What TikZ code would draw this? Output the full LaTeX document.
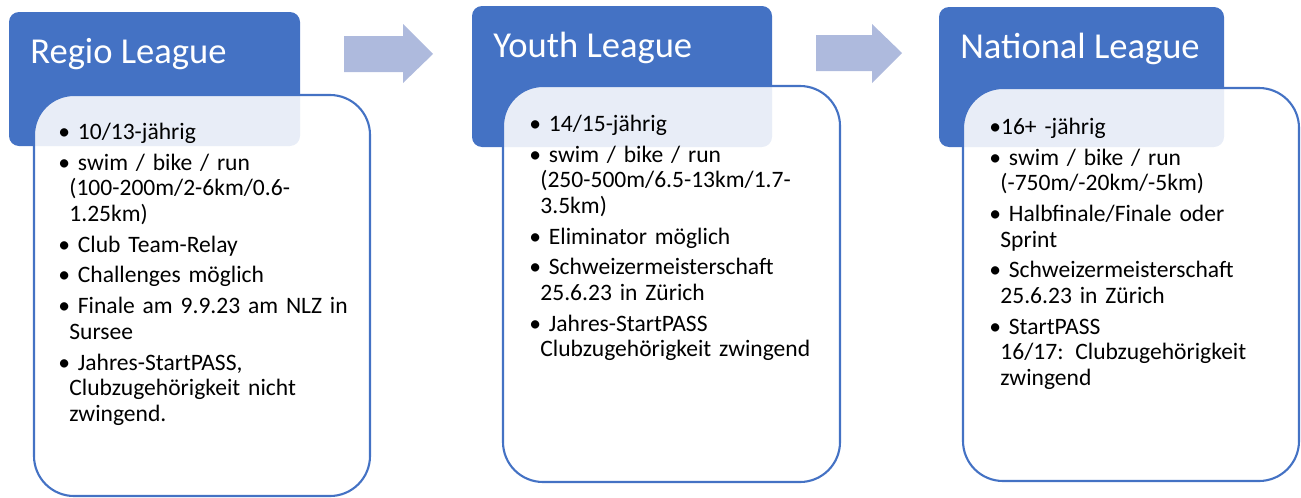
\documentclass[tikz,border=0pt]{standalone}
\usepackage{fontspec}
\setmainfont{Carlito}
\usetikzlibrary{positioning}
\definecolor{kopfblau}{HTML}{4472C4}
\definecolor{pfeilblau}{HTML}{AEBADD}
\newcommand{\punkt}[1]{\par\noindent\hangindent=6.3pt\hangafter=1\relax\textbullet\ #1}
\begin{document}
\begin{tikzpicture}[x=0.02cm, y=-0.02cm,
		kopf/.style={fill=kopfblau, rounded corners=0.2cm},
		rahmen/.style={draw=kopfblau, line width=1.2pt, fill=white, fill opacity=0.88, rounded corners=0.8cm},
		titel/.style={anchor=base west, inner sep=0pt, text=white, font=\fontsize{20.8}{25}\selectfont},
		liste/.style={anchor=north west, inner sep=0pt, text width=6.2cm, font=\fontsize{13.4}{14.5}\selectfont\setlength{\parskip}{3.1pt}\raggedright},
		pfeil/.style={fill=pfeilblau}]
	\useasboundingbox (0,0) rectangle (1301,497);
	% Regio League
	\fill[kopf] (9,12) rectangle (300,146);
	\node[titel] (regiotitel) at (30,63) {Regio League};
	\filldraw[rahmen] (34,95) rectangle (370,496);
	\node[liste] (regioliste) at (58,108) {%
		\punkt{\rule{0pt}{12pt}10/13-jährig}
		\punkt{swim / bike / run\newline(100-200m/2-6km/0.6-\newline1.25km)}
		\punkt{Club Team-Relay}
		\punkt{Challenges möglich}
		\punkt{Finale am 9.9.23 am NLZ in\newline Sursee}
		\punkt{Jahres-StartPASS,\newline Clubzugehörigkeit nicht\newline zwingend.}\par};
	\fill[pfeil] (344,36) -- (403,36) -- (403,24) -- (433,54) -- (403,83) -- (403,72) -- (344,72) -- cycle;
	% Youth League
	\fill[kopf] (472,6) rectangle (772,147);
	\node[titel] (youthtitel) at (493,57) {Youth League};
	\filldraw[rahmen] (503,86) rectangle (840,482);
	\node[liste] (youthliste) at (529,100) {%
		\punkt{\rule{0pt}{12pt}14/15-jährig}
		\punkt{swim / bike / run\newline(250-500m/6.5-13km/1.7-\newline3.5km)}
		\punkt{Eliminator möglich}
		\punkt{Schweizermeisterschaft\newline 25.6.23 in Zürich}
		\punkt{Jahres-StartPASS\newline Clubzugehörigkeit zwingend}\par};
	\fill[pfeil] (816,35) -- (872,35) -- (872,24) -- (902,53) -- (872,83) -- (872,71) -- (816,71) -- cycle;
	% National League
	\fill[kopf] (939,7) rectangle (1224,147);
	\node[titel] (nationaltitel) at (960,58) {National League};
	\filldraw[rahmen] (963,88) rectangle (1299,481);
	\node[liste] (nationalliste) at (989,103) {%
		\par\noindent\hangindent=6.3pt\hangafter=1\relax\rule{0pt}{12pt}\textbullet16+ -jährig
		\punkt{swim / bike / run\newline(-750m/-20km/-5km)}
		\punkt{Halbfinale/Finale oder\newline Sprint}
		\punkt{Schweizermeisterschaft\newline 25.6.23 in Zürich}
		\punkt{StartPASS\newline 16/17: Clubzugehörigkeit\newline zwingend}\par};
\end{tikzpicture}
\end{document}
